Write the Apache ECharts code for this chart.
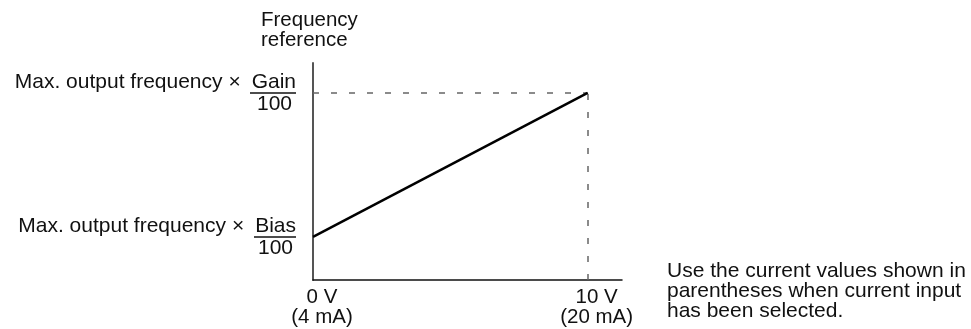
<!DOCTYPE html>
<html>
<head>
<meta charset="utf-8">
<script src="https://cdn.jsdelivr.net/npm/echarts@6/dist/echarts.min.js"></script>
<style>
  html, body { margin: 0; padding: 0; background: #fff; }
  #chart { width: 971px; height: 329px; }
</style>
</head>
<body>
<div id="chart"></div>
<script>
// Input signal (V) and frequency reference (% of max. output frequency)
const inputValues = [0, 10];
const freqValues = [23, 100];          // Bias level, Gain level
const xTickValues = [0, 10];
const xTickLabels = ['0 V\n(4 mA)', '10 V\n(20 mA)'];
const yTickValues = [23, 100];
const yTickWords = ['Bias', 'Gain'];
const yDenominator = '100';
const yPrefix = 'Max. output frequency ×';
const yAxisTitle = 'Frequency\nreference';
const noteText = 'Use the current values shown in\nparentheses when current input\nhas been selected.';

const FONT = "'Liberation Sans', Arial, Helvetica, sans-serif";
const FS = 21;

const chart = echarts.init(document.getElementById('chart'), null, { renderer: 'canvas' });

const lineData = inputValues.map((x, i) => [x, freqValues[i]]);

chart.setOption({
  animation: false,
  backgroundColor: '#ffffff',
  textStyle: { fontFamily: FONT },
  title: [
    {
      text: yAxisTitle,
      left: 261, top: 10, padding: 0,
      textStyle: { fontFamily: FONT, fontSize: 20.5, lineHeight: 20.5, fontWeight: 'normal', color: '#111' }
    },
    {
      text: noteText,
      left: 667, top: 261, padding: 0,
      textStyle: { fontFamily: FONT, fontSize: FS, lineHeight: 20, fontWeight: 'normal', color: '#111' }
    }
  ],
  grid: { left: 313, right: 349, top: 63, bottom: 49, containLabel: false },
  xAxis: {
    type: 'value', min: 0, max: 11.25,
    axisLine: { show: true, onZero: false, lineStyle: { color: '#111', width: 1.5 } },
    axisTick: { show: false },
    splitLine: { show: false },
    axisLabel: {
      customValues: xTickValues,
      formatter: (v) => xTickLabels[xTickValues.indexOf(v)],
      fontFamily: FONT, fontSize: 20.5, lineHeight: 20, color: '#111',
      margin: 7, padding: [0, 0, 0, 18], align: 'center'
    }
  },
  yAxis: {
    type: 'value', min: 0, max: 116,
    axisLine: { show: true, onZero: false, lineStyle: { color: '#555', width: 2 } },
    axisTick: { show: false },
    splitLine: { show: false },
    axisLabel: {
      customValues: yTickValues,
      margin: 17,
      align: 'right',
      formatter: (v) => {
        const i = yTickValues.indexOf(v);
        const k = i === 0 ? 'b' : 'g';
        return '{t|' + yPrefix + '}{w|' + yTickWords[i] + '}\n{bar' + k + '|}\n{d' + k + '|' + yDenominator + '}';
      },
      rich: {
        t: { fontFamily: FONT, fontSize: FS, lineHeight: 20, color: '#111', padding: [2, 11, 0, 0] },
        w: { fontFamily: FONT, fontSize: FS, lineHeight: 20, color: '#111', padding: [2, 0, 0, 0] },
        barg: { width: 46, height: 1.6, lineHeight: 3, backgroundColor: '#111' },
        barb: { width: 42, height: 1.6, lineHeight: 3, backgroundColor: '#111' },
        dg: { fontFamily: FONT, fontSize: FS, lineHeight: 20, color: '#111', padding: [0, 4, 0, 0] },
        db: { fontFamily: FONT, fontSize: FS, lineHeight: 20, color: '#111', padding: [0, 3, 0, 0] }
      }
    }
  },
  series: [
    {
      type: 'line',
      data: lineData,
      symbol: 'none',
      lineStyle: { color: '#000', width: 2.5 },
      z: 5,
      markLine: {
        silent: true,
        symbol: ['none', 'none'],
        label: { show: false },
        lineStyle: { color: '#666', width: 1.5, type: [6, 12] },
        data: [
          [ { coord: [inputValues[0], freqValues[1]] }, { coord: [inputValues[1], freqValues[1]] } ],
          [ { coord: [inputValues[1], 0] }, { coord: [inputValues[1], freqValues[1]] } ]
        ]
      }
    }
  ]
});
</script>
</body>
</html>
